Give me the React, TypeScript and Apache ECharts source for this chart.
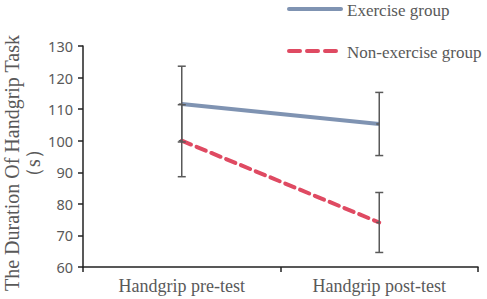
import React, { useEffect, useRef } from "react";
import * as echarts from "echarts";

const categories = ["Handgrip pre-test", "Handgrip post-test"];
const exerciseMean = [111.6, 105.3];
const exerciseErr = [12, 10];
const nonExerciseMean = [100, 74.1];
const nonExerciseErr = [11.4, 9.5];
const yTicks = [60, 70, 80, 90, 100, 110, 120, 130];

const BLUE = "#7F93B2";
const RED = "#DF4A62";
const GREY = "#595959";
const SERIF = "'Liberation Serif', 'Times New Roman', serif";

export default function App() {
  const ref = useRef<HTMLDivElement>(null);
  useEffect(() => {
    const chart = echarts.init(ref.current!, null, { renderer: "svg" });
    const errData: number[][] = [];
    categories.forEach((_, i) => {
      errData.push([i, exerciseMean[i] - exerciseErr[i], exerciseMean[i] + exerciseErr[i], exerciseMean[i]]);
      errData.push([i, nonExerciseMean[i] - nonExerciseErr[i], nonExerciseMean[i] + nonExerciseErr[i], nonExerciseMean[i]]);
    });
    chart.setOption({
      animation: false,
      grid: { left: 83, right: 9, top: 46, bottom: 32 },
      xAxis: {
        type: "category",
        data: categories,
        boundaryGap: true,
        axisLine: { lineStyle: { color: "#222", width: 1.5 } },
        axisTick: { show: true, length: 5, lineStyle: { color: "#222", width: 1.5 } },
        axisLabel: { color: GREY, fontFamily: SERIF, fontSize: 18, margin: 10 },
      },
      yAxis: {
        type: "value",
        min: yTicks[0],
        max: yTicks[yTicks.length - 1],
        interval: 10,
        axisLine: { show: true, lineStyle: { color: "#222", width: 1.5 } },
        axisTick: { show: true, length: 5, lineStyle: { color: "#222", width: 1.5 } },
        splitLine: { show: false },
        axisLabel: { color: GREY, fontFamily: "Noto Sans", fontSize: 14.5, margin: 10 },
      },
      series: [
        {
          type: "line",
          name: "Exercise group",
          data: exerciseMean,
          symbol: "none",
          lineStyle: { color: BLUE, width: 4 },
          z: 3,
        },
        {
          type: "line",
          name: "Non-exercise group",
          data: nonExerciseMean,
          symbol: "none",
          lineStyle: { color: RED, width: 4, type: [10, 6], cap: "round" },
          z: 3,
        },
        {
          type: "custom",
          data: errData,
          z: 4,
          renderItem: (params: any, api: any) => {
            const x = api.value(0);
            const lo = api.coord([x, api.value(1)]);
            const hi = api.coord([x, api.value(2)]);
            const mid = api.coord([x, api.value(3)]);
            const hw = 4;
            const style = { stroke: GREY, lineWidth: 1.5 };
            return {
              type: "group",
              children: [
                { type: "line", shape: { x1: lo[0], y1: lo[1], x2: hi[0], y2: hi[1] }, style },
                { type: "line", shape: { x1: lo[0] - hw, y1: lo[1], x2: lo[0] + hw, y2: lo[1] }, style },
                { type: "line", shape: { x1: hi[0] - hw, y1: hi[1], x2: hi[0] + hw, y2: hi[1] }, style },
                { type: "line", shape: { x1: mid[0] - 3, y1: mid[1], x2: mid[0], y2: mid[1] }, style },
              ],
            };
          },
        },
      ],
      graphic: [
        {
          type: "text",
          x: 22,
          y: 163,
          rotation: Math.PI / 2,
          style: {
            text: "The Duration Of Handgrip Task\n（s）",
            fill: GREY,
            fontFamily: SERIF,
            fontSize: 20,
            align: "center",
            verticalAlign: "middle",
            lineHeight: 21,
          },
        },
        {
          type: "line",
          shape: { x1: 289, y1: 9, x2: 341, y2: 9 },
          style: { stroke: BLUE, lineWidth: 4, lineCap: "round" },
        },
        {
          type: "text",
          x: 347,
          y: 10,
          style: { text: "Exercise group", fill: GREY, fontFamily: SERIF, fontSize: 17, verticalAlign: "middle" },
        },
        {
          type: "line",
          shape: { x1: 289, y1: 51, x2: 341, y2: 51 },
          style: { stroke: RED, lineWidth: 4, lineCap: "round", lineDash: [11, 7] },
        },
        {
          type: "text",
          x: 347,
          y: 52,
          style: { text: "Non-exercise group", fill: GREY, fontFamily: SERIF, fontSize: 17, verticalAlign: "middle" },
        },
      ],
    });
    return () => chart.dispose();
  }, []);
  return <div ref={ref} style={{ width: 487, height: 299, position: "absolute", left: 0, top: 0 }} />;
}
